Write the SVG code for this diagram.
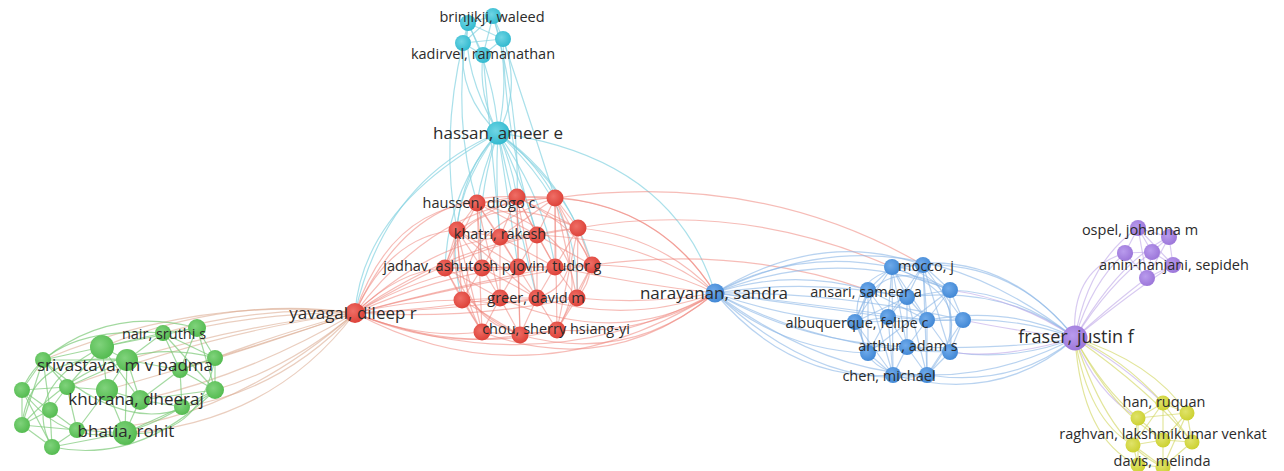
<svg xmlns="http://www.w3.org/2000/svg" width="1284" height="471" viewBox="0 0 1284 471">
<style>
.bg{fill:#ffffff}
#connectors path{fill:none;stroke-width:1.2}
.ec path{stroke:#86d3e1;stroke-opacity:.7}
.er path{stroke:#ee857c;stroke-opacity:.55}
.eg path{stroke:#7cc978;stroke-opacity:.7}
.eb path{stroke:#8ab5e6;stroke-opacity:.6}
.ep path{stroke:#bea6e8;stroke-opacity:.6}
.ey path{stroke:#d6da70;stroke-opacity:.7}
.et path{stroke:#dcae94;stroke-opacity:.6}
.cc{fill:url(#gc)} .cr{fill:url(#gr)} .cg{fill:url(#gg)} .cb{fill:url(#gb)} .cp{fill:url(#gp)} .cy{fill:url(#gy)}
text{font-family:"Open Sans","DejaVu Sans",sans-serif;fill:#2b2b2b;text-anchor:middle}
.s{font-size:14.5px}.m{font-size:17px}.l{font-size:17px}.x{font-size:18px}
</style>
<defs>
<radialGradient id="gc" cx=".4" cy=".4" r=".65"><stop offset="0" stop-color="#6fd5e4"/><stop offset="1" stop-color="#2fb8ce"/></radialGradient>
<radialGradient id="gr" cx=".4" cy=".4" r=".65"><stop offset="0" stop-color="#ef6e66"/><stop offset="1" stop-color="#dc3f36"/></radialGradient>
<radialGradient id="gg" cx=".4" cy=".4" r=".65"><stop offset="0" stop-color="#80d37c"/><stop offset="1" stop-color="#52ba4e"/></radialGradient>
<radialGradient id="gb" cx=".4" cy=".4" r=".65"><stop offset="0" stop-color="#6faaea"/><stop offset="1" stop-color="#3f86d4"/></radialGradient>
<radialGradient id="gp" cx=".4" cy=".4" r=".65"><stop offset="0" stop-color="#b99bed"/><stop offset="1" stop-color="#9a74d8"/></radialGradient>
<radialGradient id="gy" cx=".4" cy=".4" r=".65"><stop offset="0" stop-color="#e0e36a"/><stop offset="1" stop-color="#cbd02e"/></radialGradient>
</defs>
<rect class="bg" x="0" y="0" width="1284" height="471"/>
<g id="connectors">
<g class="et">
<path d="M355 313Q260 305 163 333"/><path d="M355 313Q275 312 197 328"/><path d="M355 313Q290 330 215 358"/><path d="M355 313Q270 342 180 370"/><path d="M355 313Q290 368 215 390"/><path d="M355 313Q280 392 182 407"/><path d="M355 313Q230 295 102 347"/><path d="M355 313Q240 325 127 360"/><path d="M355 313Q250 375 140 400"/><path d="M355 313Q270 425 125 433"/><path d="M355 313Q230 355 107 390"/><path d="M355 313Q200 295 43 360"/><path d="M355 313Q220 330 67 387"/><path d="M355 313Q220 430 77 430"/>
</g>
<g class="eg">
<path d="M102 347L163 333"/><path d="M102 347L43 360"/><path d="M102 347L127 360"/><path d="M102 347L67 387"/><path d="M102 347L107 390"/><path d="M102 347L197 328"/><path d="M102 347L140 400"/><path d="M163 333L197 328"/><path d="M163 333L127 360"/><path d="M163 333L215 358"/><path d="M163 333L180 370"/><path d="M163 333L215 390"/><path d="M197 328L215 358"/><path d="M197 328L180 370"/><path d="M197 328L215 390"/><path d="M43 360L22 390"/><path d="M43 360L67 387"/><path d="M43 360L127 360"/><path d="M43 360L50 410"/><path d="M43 360L22 425"/><path d="M127 360L180 370"/><path d="M127 360L67 387"/><path d="M127 360L107 390"/><path d="M127 360L140 400"/><path d="M127 360L125 433"/><path d="M215 358L180 370"/><path d="M215 358L215 390"/><path d="M180 370L140 400"/><path d="M180 370L215 390"/><path d="M180 370L182 407"/><path d="M22 390L67 387"/><path d="M22 390L50 410"/><path d="M22 390L22 425"/><path d="M22 390L52 447"/><path d="M67 387L107 390"/><path d="M67 387L50 410"/><path d="M67 387L77 430"/><path d="M107 390L140 400"/><path d="M107 390L77 430"/><path d="M107 390L125 433"/><path d="M140 400L182 407"/><path d="M140 400L125 433"/><path d="M140 400L215 390"/><path d="M215 390L182 407"/><path d="M182 407L125 433"/><path d="M50 410L22 425"/><path d="M50 410L77 430"/><path d="M50 410L52 447"/><path d="M22 425L52 447"/><path d="M22 425L77 430"/><path d="M77 430L125 433"/><path d="M77 430L52 447"/><path d="M125 433L52 447"/>
<path d="M22 390Q50 325 163 333"/><path d="M22 425Q30 350 127 360"/><path d="M52 447Q140 465 215 390"/><path d="M43 360Q110 305 197 328"/><path d="M22 390Q80 470 182 407"/><path d="M52 447Q20 390 102 347"/><path d="M215 358Q200 440 125 433"/><path d="M22 425Q110 330 215 358"/><path d="M43 360Q140 450 215 390"/>
</g>
<g class="ec">
<path d="M493 16L468 23"/><path d="M493 16L463 43"/><path d="M493 16L503 39"/><path d="M493 16L483 55"/><path d="M468 23L463 43"/><path d="M468 23L503 39"/><path d="M468 23L483 55"/><path d="M463 43L503 39"/><path d="M463 43L483 55"/><path d="M503 39L483 55"/>
<path d="M498 133Q458 95 463 43"/><path d="M498 133Q462 70 468 23"/><path d="M498 133Q512 70 493 16"/><path d="M498 133Q522 90 503 39"/><path d="M498 133Q478 95 483 55"/><path d="M498 133Q495 80 468 23"/>
<path d="M463 43Q440 140 457 230"/><path d="M468 23Q452 120 477 203"/><path d="M503 39Q530 120 555 198"/><path d="M483 55Q492 150 500 237"/><path d="M493 16Q520 110 517 197"/><path d="M503 39Q505 140 537 235"/>
<path d="M498 133Q482 170 477 203"/><path d="M498 133Q512 165 517 197"/><path d="M498 133Q535 160 555 198"/><path d="M498 133Q462 170 457 230"/><path d="M498 133Q495 185 500 237"/><path d="M498 133Q522 180 537 235"/><path d="M498 133Q552 170 578 228"/><path d="M498 133Q448 190 445 268"/><path d="M498 133Q475 200 482 268"/><path d="M498 133Q572 190 592 265"/><path d="M498 133Q438 210 462 300"/><path d="M498 133Q582 210 577 298"/><path d="M498 133Q545 200 555 267"/><path d="M498 133Q510 210 518 267"/><path d="M498 133Q520 230 537 298"/>
<path d="M498 133Q673 157 715 293"/><path d="M498 133Q363 207 355 313"/><path d="M498 133Q385 180 355 313"/>
</g>
<g class="er">
<path d="M477 203L517 197"/><path d="M477 203L555 198"/><path d="M477 203L457 230"/><path d="M477 203L500 237"/><path d="M477 203L537 235"/><path d="M477 203L445 268"/><path d="M477 203L482 268"/><path d="M477 203L518 267"/><path d="M477 203L500 298"/><path d="M477 203L482 332"/>
<path d="M517 197L555 198"/><path d="M517 197L457 230"/><path d="M517 197L500 237"/><path d="M517 197L537 235"/><path d="M517 197L578 228"/><path d="M517 197L518 267"/><path d="M517 197L555 267"/><path d="M517 197L537 298"/><path d="M517 197L520 335"/>
<path d="M555 198L500 237"/><path d="M555 198L537 235"/><path d="M555 198L578 228"/><path d="M555 198L555 267"/><path d="M555 198L592 265"/><path d="M555 198L577 298"/><path d="M555 198L557 330"/>
<path d="M457 230L500 237"/><path d="M457 230L445 268"/><path d="M457 230L482 268"/><path d="M457 230L462 300"/><path d="M457 230L518 267"/><path d="M457 230L537 298"/><path d="M457 230L482 332"/>
<path d="M500 237L537 235"/><path d="M500 237L482 268"/><path d="M500 237L518 267"/><path d="M500 237L555 267"/><path d="M500 237L500 298"/>
<path d="M537 235L578 228"/><path d="M537 235L518 267"/><path d="M537 235L555 267"/><path d="M537 235L592 265"/><path d="M537 235L537 298"/>
<path d="M578 228L555 267"/><path d="M578 228L592 265"/><path d="M578 228L577 298"/><path d="M578 228L557 330"/>
<path d="M445 268L482 268"/><path d="M445 268L462 300"/><path d="M445 268L500 298"/><path d="M445 268L482 332"/><path d="M445 268L555 267"/>
<path d="M482 268L518 267"/><path d="M482 268L462 300"/><path d="M482 268L500 298"/><path d="M482 268L537 298"/>
<path d="M518 267L555 267"/><path d="M518 267L500 298"/><path d="M518 267L537 298"/><path d="M518 267L520 335"/>
<path d="M555 267L592 265"/><path d="M555 267L537 298"/><path d="M555 267L577 298"/><path d="M592 265L577 298"/><path d="M592 265L557 330"/>
<path d="M462 300L500 298"/><path d="M462 300L482 332"/><path d="M462 300L520 335"/><path d="M500 298L537 298"/><path d="M500 298L482 332"/><path d="M500 298L520 335"/>
<path d="M537 298L577 298"/><path d="M537 298L520 335"/><path d="M537 298L557 330"/><path d="M577 298L557 330"/><path d="M482 332L520 335"/><path d="M520 335L557 330"/>
<path d="M477 203Q610 240 557 330"/><path d="M457 230Q460 350 557 330"/><path d="M555 198Q430 240 482 332"/><path d="M445 268Q470 180 578 228"/><path d="M462 300Q610 320 555 198"/><path d="M517 197Q620 250 577 298"/><path d="M457 230Q440 300 520 335"/>
<path d="M355 313Q390 210 477 203"/><path d="M355 313Q390 235 457 230"/><path d="M355 313Q410 190 517 197"/><path d="M355 313Q400 270 445 268"/><path d="M355 313Q420 275 482 268"/><path d="M355 313Q410 300 462 300"/><path d="M355 313Q430 310 500 298"/><path d="M355 313Q420 340 482 332"/><path d="M355 313Q440 350 520 335"/><path d="M355 313Q460 355 557 330"/><path d="M355 313Q470 320 577 298"/><path d="M355 313Q480 280 592 265"/><path d="M355 313Q460 240 578 228"/><path d="M355 313Q440 200 555 198"/><path d="M355 313Q430 245 500 237"/><path d="M355 313Q450 255 537 235"/><path d="M355 313Q440 275 518 267"/><path d="M355 313Q460 285 555 267"/><path d="M355 313Q450 310 537 298"/>
<path d="M355 313Q531 407 715 293"/><path d="M355 313Q540 385 715 293"/>
<path d="M555 198Q660 205 715 293"/><path d="M578 228Q660 235 715 293"/><path d="M592 265Q660 265 715 293"/><path d="M555 267Q640 285 715 293"/><path d="M577 298Q650 305 715 293"/><path d="M557 330Q650 335 715 293"/><path d="M537 298Q630 325 715 293"/><path d="M520 335Q630 365 715 293"/><path d="M517 197Q650 190 715 293"/><path d="M537 235Q650 240 715 293"/><path d="M482 332Q610 380 715 293"/><path d="M500 298Q620 350 715 293"/>
<path d="M578 228Q740 200 892 267"/><path d="M592 265Q740 245 868 290"/><path d="M555 198Q760 170 923 265"/>
</g>
<g class="eb">
<path d="M715 293Q795 248 892 267"/><path d="M715 293Q820 228 923 265"/><path d="M715 293Q790 268 868 290"/><path d="M715 293Q810 278 907 297"/><path d="M715 293Q835 245 950 290"/><path d="M715 293Q785 318 855 322"/><path d="M715 293Q800 305 888 317"/><path d="M715 293Q820 305 927 320"/><path d="M715 293Q840 292 963 320"/><path d="M715 293Q780 350 868 353"/><path d="M715 293Q800 342 907 347"/><path d="M715 293Q830 352 950 352"/><path d="M715 293Q790 382 893 375"/><path d="M715 293Q820 392 927 375"/>
<path d="M715 293Q900 200 1075 338"/><path d="M715 293Q900 430 1075 338"/>
<path d="M892 267L923 265"/><path d="M892 267L868 290"/><path d="M892 267L907 297"/><path d="M892 267L950 290"/><path d="M892 267L888 317"/><path d="M892 267L927 320"/><path d="M892 267L907 347"/><path d="M892 267L893 375"/><path d="M892 267L855 322"/>
<path d="M923 265L907 297"/><path d="M923 265L950 290"/><path d="M923 265L927 320"/><path d="M923 265L963 320"/><path d="M923 265L950 352"/><path d="M923 265L927 375"/><path d="M923 265L888 317"/>
<path d="M868 290L907 297"/><path d="M868 290L888 317"/><path d="M868 290L855 322"/><path d="M868 290L868 353"/><path d="M868 290L927 320"/><path d="M868 290L893 375"/>
<path d="M907 297L950 290"/><path d="M907 297L888 317"/><path d="M907 297L927 320"/><path d="M907 297L907 347"/><path d="M907 297L927 375"/><path d="M907 297L855 322"/>
<path d="M950 290L927 320"/><path d="M950 290L963 320"/><path d="M950 290L950 352"/><path d="M950 290L868 353"/>
<path d="M888 317L927 320"/><path d="M888 317L868 353"/><path d="M888 317L907 347"/><path d="M888 317L893 375"/><path d="M888 317L855 322"/>
<path d="M927 320L963 320"/><path d="M927 320L907 347"/><path d="M927 320L950 352"/><path d="M927 320L927 375"/><path d="M963 320L950 352"/><path d="M963 320L927 375"/>
<path d="M855 322L868 353"/><path d="M855 322L893 375"/><path d="M855 322L963 320"/><path d="M868 353L907 347"/><path d="M868 353L893 375"/><path d="M907 347L950 352"/><path d="M907 347L893 375"/><path d="M907 347L927 375"/><path d="M950 352L927 375"/><path d="M893 375L927 375"/>
<path d="M892 267Q990 300 927 375"/><path d="M868 290Q840 380 927 375"/><path d="M923 265Q830 270 868 353"/><path d="M855 322Q880 250 950 290"/><path d="M950 352Q960 270 892 267"/>
<path d="M923 265Q1015 262 1075 338"/><path d="M892 267Q1000 245 1075 338"/><path d="M950 290Q1015 292 1075 338"/><path d="M963 320Q1020 318 1075 338"/><path d="M927 320Q1010 305 1075 338"/><path d="M907 297Q1005 285 1075 338"/><path d="M950 352Q1015 362 1075 338"/><path d="M927 375Q1015 388 1075 338"/><path d="M893 375Q1000 405 1075 338"/><path d="M907 347Q1010 350 1075 338"/>
</g>
<g class="ep">
<path d="M1075 338Q1088 262 1138 228"/><path d="M1075 338Q1118 262 1169 237"/><path d="M1075 338Q1092 282 1125 253"/><path d="M1075 338Q1110 282 1152 252"/><path d="M1075 338Q1132 292 1173 265"/><path d="M1075 338Q1115 302 1147 278"/><path d="M1075 338Q1070 270 1125 253"/>
<path d="M1138 228L1169 237"/><path d="M1138 228L1125 253"/><path d="M1138 228L1152 252"/><path d="M1138 228L1173 265"/><path d="M1138 228L1147 278"/><path d="M1169 237L1152 252"/><path d="M1169 237L1173 265"/><path d="M1169 237L1147 278"/><path d="M1125 253L1152 252"/><path d="M1125 253L1147 278"/><path d="M1152 252L1173 265"/><path d="M1152 252L1147 278"/><path d="M1173 265L1147 278"/>
<path d="M1075 338Q1020 300 950 290"/><path d="M1075 338Q1010 330 963 320"/><path d="M1075 338Q1000 360 950 352"/>
<path d="M1075 338Q1095 392 1138 418"/><path d="M1075 338Q1120 362 1163 403"/>
</g>
<g class="ey">
<path d="M1075 338Q1122 358 1163 403"/><path d="M1075 338Q1152 362 1187 413"/><path d="M1075 338Q1102 388 1138 418"/><path d="M1075 338Q1112 410 1163 440"/><path d="M1075 338Q1088 420 1133 445"/><path d="M1075 338Q1152 392 1192 442"/><path d="M1075 338Q1082 440 1138 465"/><path d="M1075 338Q1108 442 1163 467"/>
<path d="M1163 403L1187 413"/><path d="M1163 403L1138 418"/><path d="M1163 403L1163 440"/><path d="M1163 403L1192 442"/><path d="M1187 413L1163 440"/><path d="M1187 413L1192 442"/><path d="M1187 413L1138 418"/><path d="M1138 418L1163 440"/><path d="M1138 418L1133 445"/><path d="M1138 418L1138 465"/><path d="M1163 440L1133 445"/><path d="M1163 440L1192 442"/><path d="M1163 440L1163 467"/><path d="M1133 445L1138 465"/><path d="M1133 445L1163 467"/><path d="M1138 465L1163 467"/><path d="M1192 442L1163 467"/><path d="M1187 413L1163 467"/><path d="M1163 403L1133 445"/>
</g>
</g>
<g id="nodes">
<g id="c2"><circle class="cc" cx="468" cy="23" r="8"/></g>
<g id="c3"><circle class="cc" cx="463" cy="43" r="8"/></g>
<g id="c4"><circle class="cc" cx="503" cy="39" r="8"/></g>
<g id="r2"><circle class="cr" cx="517" cy="197" r="8.5"/></g>
<g id="r3"><circle class="cr" cx="555" cy="198" r="8.5"/></g>
<g id="r4"><circle class="cr" cx="457" cy="230" r="8.5"/></g>
<g id="r6"><circle class="cr" cx="537" cy="235" r="8.5"/></g>
<g id="r7"><circle class="cr" cx="578" cy="228" r="8.5"/></g>
<g id="r9"><circle class="cr" cx="482" cy="268" r="8.5"/></g>
<g id="r10"><circle class="cr" cx="518" cy="267" r="8.5"/></g>
<g id="r12"><circle class="cr" cx="592" cy="265" r="8.5"/></g>
<g id="r13"><circle class="cr" cx="462" cy="300" r="8.5"/></g>
<g id="r14"><circle class="cr" cx="500" cy="298" r="8.5"/></g>
<g id="r16"><circle class="cr" cx="577" cy="298" r="8.5"/></g>
<g id="r17"><circle class="cr" cx="482" cy="332" r="8.5"/></g>
<g id="r18"><circle class="cr" cx="520" cy="335" r="8.5"/></g>
<g id="g1"><circle class="cg" cx="102" cy="347" r="12"/></g>
<g id="g3"><circle class="cg" cx="197" cy="328" r="9"/></g>
<g id="g4"><circle class="cg" cx="43" cy="360" r="8"/></g>
<g id="g6"><circle class="cg" cx="215" cy="358" r="8"/></g>
<g id="g7"><circle class="cg" cx="180" cy="370" r="8"/></g>
<g id="g8"><circle class="cg" cx="22" cy="390" r="8"/></g>
<g id="g9"><circle class="cg" cx="67" cy="387" r="8"/></g>
<g id="g10"><circle class="cg" cx="107" cy="390" r="11"/></g>
<g id="g12"><circle class="cg" cx="215" cy="390" r="9"/></g>
<g id="g13"><circle class="cg" cx="182" cy="407" r="8"/></g>
<g id="g14"><circle class="cg" cx="50" cy="410" r="8"/></g>
<g id="g15"><circle class="cg" cx="22" cy="425" r="8"/></g>
<g id="g16"><circle class="cg" cx="77" cy="430" r="8"/></g>
<g id="g18"><circle class="cg" cx="52" cy="447" r="8"/></g>
<g id="b1"><circle class="cb" cx="892" cy="267" r="8"/></g>
<g id="b4"><circle class="cb" cx="907" cy="297" r="8"/></g>
<g id="b5"><circle class="cb" cx="950" cy="290" r="8"/></g>
<g id="b6"><circle class="cb" cx="888" cy="317" r="8"/></g>
<g id="b7"><circle class="cb" cx="927" cy="320" r="8"/></g>
<g id="b8"><circle class="cb" cx="963" cy="320" r="8"/></g>
<g id="b9"><circle class="cb" cx="868" cy="353" r="8"/></g>
<g id="b11"><circle class="cb" cx="950" cy="352" r="8"/></g>
<g id="b13"><circle class="cb" cx="927" cy="375" r="8"/></g>
<g id="p2"><circle class="cp" cx="1169" cy="237" r="8"/></g>
<g id="p3"><circle class="cp" cx="1125" cy="253" r="8"/></g>
<g id="p4"><circle class="cp" cx="1152" cy="252" r="8"/></g>
<g id="p6"><circle class="cp" cx="1147" cy="278" r="8"/></g>
<g id="y2"><circle class="cy" cx="1187" cy="413" r="7.5"/></g>
<g id="y3"><circle class="cy" cx="1138" cy="418" r="7.5"/></g>
<g id="y5"><circle class="cy" cx="1133" cy="445" r="7.5"/></g>
<g id="y6"><circle class="cy" cx="1192" cy="442" r="7.5"/></g>
<g id="y7"><circle class="cy" cx="1138" cy="465" r="7.5"/></g>

<g id="brinjikji-waleed"><circle class="cc" cx="493" cy="16" r="8"/><text class="s" x="492" y="22">brinjikji, waleed</text></g>
<g id="kadirvel-ramanathan"><circle class="cc" cx="483" cy="55" r="8"/><text class="s" x="483" y="59">kadirvel, ramanathan</text></g>
<g id="hassan-ameer-e"><circle class="cc" cx="498" cy="133" r="11.5"/><text class="l" x="498" y="139">hassan, ameer e</text></g>
<g id="haussen-diogo-c"><circle class="cr" cx="477" cy="203" r="8.5"/><text class="s" x="479" y="208">haussen, diogo c</text></g>
<g id="khatri-rakesh"><circle class="cr" cx="500" cy="237" r="8.5"/><text class="s" x="500" y="239">khatri, rakesh</text></g>
<g id="jadhav-ashutosh-p"><circle class="cr" cx="445" cy="268" r="8.5"/><text class="s" x="447" y="271">jadhav, ashutosh p</text></g>
<g id="jovin-tudor-g"><circle class="cr" cx="555" cy="267" r="8.5"/><text class="s" x="557" y="271">jovin, tudor g</text></g>
<g id="greer-david-m"><circle class="cr" cx="537" cy="298" r="8.5"/><text class="s" x="536" y="303">greer, david m</text></g>
<g id="chou-sherry-hsiang-yi"><circle class="cr" cx="557" cy="330" r="8.5"/><text class="s" x="556" y="334">chou, sherry hsiang-yi</text></g>
<g id="yavagal-dileep-r"><circle class="cr" cx="355" cy="313" r="10"/><text class="m" x="353" y="319">yavagal, dileep r</text></g>
<g id="nair-sruthi-s"><circle class="cg" cx="163" cy="333" r="8"/><text class="s" x="164" y="339">nair, sruthi s</text></g>
<g id="srivastava-m-v-padma"><circle class="cg" cx="127" cy="360" r="11"/><text class="l" x="125" y="371">srivastava, m v padma</text></g>
<g id="khurana-dheeraj"><circle class="cg" cx="140" cy="400" r="10"/><text class="l" x="136" y="405">khurana, dheeraj</text></g>
<g id="bhatia-rohit"><circle class="cg" cx="125" cy="433" r="12"/><text class="m" x="126" y="437">bhatia, rohit</text></g>
<g id="narayanan-sandra"><circle class="cb" cx="715" cy="293" r="9.5"/><text class="l" x="714" y="299">narayanan, sandra</text></g>
<g id="mocco-j"><circle class="cb" cx="923" cy="265" r="8"/><text class="s" x="926" y="271">mocco, j</text></g>
<g id="ansari-sameer-a"><circle class="cb" cx="868" cy="290" r="8"/><text class="s" x="866" y="297">ansari, sameer a</text></g>
<g id="albuquerque-felipe-c"><circle class="cb" cx="855" cy="322" r="8"/><text class="s" x="857" y="328">albuquerque, felipe c</text></g>
<g id="arthur-adam-s"><circle class="cb" cx="907" cy="347" r="8"/><text class="s" x="908" y="351">arthur, adam s</text></g>
<g id="chen-michael"><circle class="cb" cx="893" cy="375" r="8"/><text class="s" x="889" y="381">chen, michael</text></g>
<g id="ospel-johanna-m"><circle class="cp" cx="1138" cy="228" r="8"/><text class="s" x="1140" y="235">ospel, johanna m</text></g>
<g id="amin-hanjani-sepideh"><circle class="cp" cx="1173" cy="265" r="8"/><text class="s" x="1174" y="270">amin-hanjani, sepideh</text></g>
<g id="fraser-justin-f"><circle class="cp" cx="1075" cy="338" r="12.5"/><text class="x" x="1076" y="343">fraser, justin f</text></g>
<g id="han-ruquan"><circle class="cy" cx="1163" cy="403" r="7.5"/><text class="s" x="1164" y="407">han, ruquan</text></g>
<g id="raghvan-lakshmikumar-venkat"><circle class="cy" cx="1163" cy="440" r="7.5"/><text class="s" x="1163" y="439">raghvan, lakshmikumar venkat</text></g>
<g id="davis-melinda"><circle class="cy" cx="1163" cy="467" r="7.5"/><text class="s" x="1162" y="466">davis, melinda</text></g>
</g>
</svg>
